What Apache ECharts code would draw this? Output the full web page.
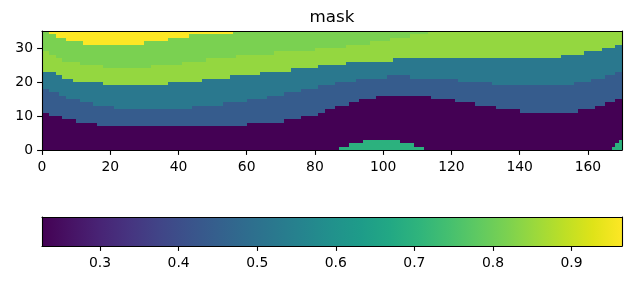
<!DOCTYPE html>
<html><head><meta charset="utf-8">
<script src="https://cdn.jsdelivr.net/npm/echarts@6/dist/echarts.min.js"></script>
<style>html,body{margin:0;padding:0;background:#fff}#chart{width:640px;height:300px}</style>
</head><body><div id="chart"></div>
<script>
// ---------------- data ----------------
const titleText = 'mask';
const nCols = 170;
const nRows = 35;
const xTickValues = [0, 20, 40, 60, 80, 100, 120, 140, 160];
const yTickValues = [0, 10, 20, 30];
const cbarTickValues = [0.3, 0.4, 0.5, 0.6, 0.7, 0.8, 0.9];
const cbarMin = 0.2261;
const cbarMax = 0.9642;

// values of the mask levels (bottom to top)
const valueBlob = 0.698;
const valuePurple = 0.2261;
const valueBlue = 0.440;
const valueTeal = 0.521;
const valueYellowGreen = 0.846;
const valueGreen = 0.816;
const valueYellow = 0.9642;

// run-length boundaries per column: [first column, top row (exclusive)]
const blobTopRuns = [[0,0],[87,1],[90,2],[94,3],[105,2],[109,1],[112,0],[167,1],[168,2],[169,3]];
const purpleTopRuns = [[0,11],[2,10],[6,9],[10,8],[16,7],[60,8],[71,9],[76,10],[81,11],[83,12],[86,13],[90,14],[93,15],[98,16],[114,15],[121,14],[127,13],[133,12],[140,11],[157,12],[162,13],[165,14],[168,15]];
const blueTopRuns = [[0,18],[2,17],[5,16],[7,15],[11,14],[15,13],[21,12],[44,13],[53,14],[60,15],[66,16],[71,17],[76,18],[81,19],[86,20],[92,21],[101,22],[108,21],[122,20],[132,19],[156,20],[161,21],[165,22],[168,23]];
const tealTopRuns = [[0,23],[4,22],[6,21],[9,20],[18,19],[37,20],[47,21],[55,22],[64,23],[73,24],[81,25],[89,26],[103,27],[152,28],[159,29],[164,30],[168,31]];
const yellowGreenTopRuns = [[0,29],[2,28],[4,27],[6,26],[11,25],[18,24],[32,25],[41,26],[48,27],[57,28],[68,29],[80,30],[89,31],[96,32],[102,33],[108,34],[113,35]];
const greenTopRuns = [[0,35],[2,34],[4,33],[7,32],[12,31],[30,32],[37,33],[43,34],[56,35]];

// ---------------- styles ----------------
const viridis = ['#440154','#471365','#482475','#463480','#414487','#3b528b','#355f8d','#2f6c8e','#2a788e','#25848e','#21918c','#1e9c89','#22a884','#2fb47c','#44bf70','#5ec962','#7ad151','#9bd93c','#bddf26','#dfe318','#fde725'];
const FONT = 'DejaVu Sans';

function expand(runs) {
  const out = new Array(nCols);
  for (let i = 0; i < runs.length; i++) {
    const end = i + 1 < runs.length ? runs[i + 1][0] : nCols;
    for (let c = runs[i][0]; c < end; c++) out[c] = runs[i][1];
  }
  return out;
}
const blobTop = expand(blobTopRuns);
const purpleTop = expand(purpleTopRuns);
const blueTop = expand(blueTopRuns);
const tealTop = expand(tealTopRuns);
const ygTop = expand(yellowGreenTopRuns);
const greenTop = expand(greenTopRuns);
const layerValues = [valueBlob, valuePurple, valueBlue, valueTeal, valueYellowGreen, valueGreen, valueYellow];

const cells = [];
for (let c = 0; c < nCols; c++) {
  const b = [0, blobTop[c], purpleTop[c], blueTop[c], tealTop[c], ygTop[c], greenTop[c], nRows];
  for (let k = 0; k < layerValues.length; k++) {
    if (b[k + 1] > b[k]) cells.push([c, b[k], b[k + 1], layerValues[k]]);
  }
}

const lineStyle = {color: '#000', width: 1.1};
const labelStyle = {color: '#000', fontSize: 13.9, fontFamily: FONT};
function boxAxis(extra) {
  return Object.assign({
    type: 'value', z: 5,
    axisLine: {show: true, onZero: false, lineStyle: lineStyle},
    axisTick: {show: false}, axisLabel: {show: false}, splitLine: {show: false}
  }, extra);
}
function tickAxis(extra, ticks, margin, fmt) {
  return Object.assign({
    type: 'value', z: 5,
    axisLine: {show: true, onZero: false, lineStyle: lineStyle},
    axisTick: {show: true, length: 4.9, lineStyle: lineStyle, customValues: ticks},
    axisLabel: Object.assign({customValues: ticks, margin: margin, formatter: fmt}, labelStyle),
    splitLine: {show: false}
  }, extra);
}

const chart = echarts.init(document.getElementById('chart'), null, {renderer: 'canvas'});
chart.setOption({
  animation: false,
  backgroundColor: '#fff',
  graphic: [{
    type: 'text', x: 332, y: 26,
    style: {text: titleText, fill: '#000', font: '16.7px "DejaVu Sans"', align: 'center', verticalAlign: 'bottom'}
  }],
  grid: [
    {left: 42, top: 31, width: 580, height: 119},
    {left: 42, top: 217, width: 580, height: 29}
  ],
  xAxis: [
    tickAxis({gridIndex: 0, min: 0, max: nCols, position: 'bottom'}, xTickValues, 10, v => String(v)),
    boxAxis({gridIndex: 0, min: 0, max: nCols, position: 'top'}),
    tickAxis({gridIndex: 1, min: cbarMin, max: cbarMax, position: 'bottom'}, cbarTickValues, 10, v => v.toFixed(1)),
    boxAxis({gridIndex: 1, min: cbarMin, max: cbarMax, position: 'top'})
  ],
  yAxis: [
    tickAxis({gridIndex: 0, min: 0, max: nRows, position: 'left'}, yTickValues, 9, v => String(v)),
    boxAxis({gridIndex: 0, min: 0, max: nRows, position: 'right'}),
    boxAxis({gridIndex: 1, min: 0, max: 1, position: 'left'}),
    boxAxis({gridIndex: 1, min: 0, max: 1, position: 'right'})
  ],
  visualMap: {
    type: 'continuous', show: false, min: cbarMin, max: cbarMax,
    dimension: 3, seriesIndex: 0, inRange: {color: viridis}
  },
  series: [
    {
      type: 'custom', xAxisIndex: 0, yAxisIndex: 0, z: 1, silent: true,
      data: cells, encode: {x: 0, y: [1, 2]},
      renderItem: function (params, api) {
        const c = api.value(0), r0 = api.value(1), r1 = api.value(2);
        const p0 = api.coord([c, r0]);
        const p1 = api.coord([c + 1, r1]);
        const x0 = Math.round(p0[0]), x1 = Math.round(p1[0]);
        const yb = Math.round(p0[1]), yt = Math.round(p1[1]);
        return {type: 'rect', shape: {x: x0, y: yt, width: x1 - x0, height: yb - yt},
                style: {fill: api.visual('color')}};
      }
    },
    {
      type: 'custom', xAxisIndex: 2, yAxisIndex: 2, z: 1, silent: true,
      data: [[cbarMin, cbarMax]], encode: {x: [0, 1]},
      renderItem: function (params, api) {
        const p0 = api.coord([api.value(0), 0]);
        const p1 = api.coord([api.value(1), 1]);
        return {type: 'rect', shape: {x: p0[0], y: p1[1], width: p1[0] - p0[0], height: p0[1] - p1[1]},
                style: {fill: new echarts.graphic.LinearGradient(0, 0, 1, 0,
                  viridis.map((col, i) => ({offset: i / (viridis.length - 1), color: col})))}};
      }
    }
  ]
});
</script></body></html>
